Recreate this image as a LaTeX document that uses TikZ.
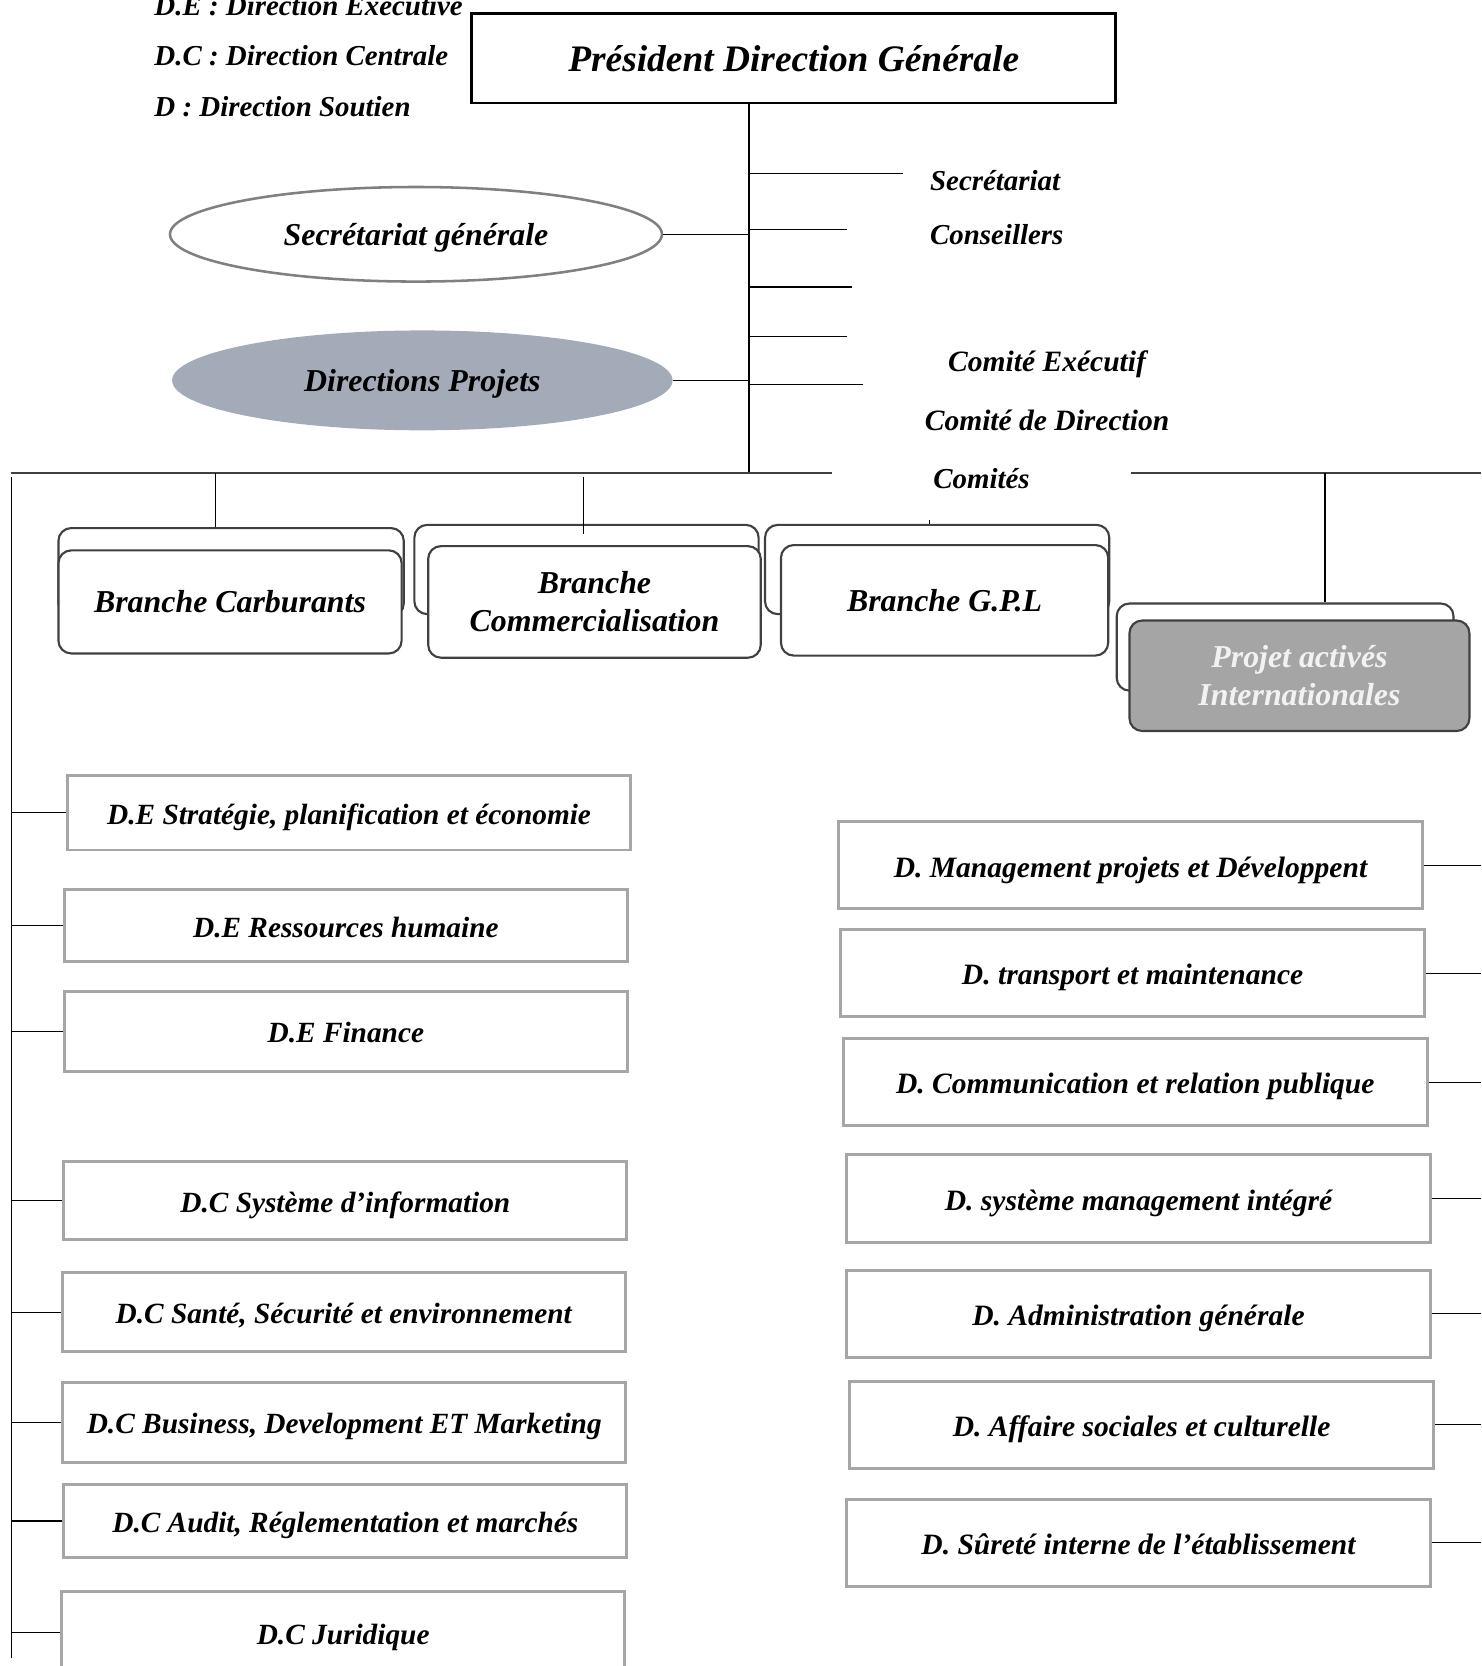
\documentclass[tikz,border=0pt]{standalone}
\usepackage{fontspec}
\setmainfont{Liberation Serif}
\usepackage{tikz}
\usetikzlibrary{shapes.geometric}
\definecolor{projgray}{RGB}{163,171,184}
\definecolor{intgray}{RGB}{165,165,165}
\definecolor{boxgray}{RGB}{166,166,166}
\definecolor{linegray}{RGB}{64,64,64}

\begin{document}
\begin{tikzpicture}[x=0.5pt,y=-0.5pt]
	\tikzstyle{txt}=[inner sep=0pt, font=\fontsize{13.6}{16}\selectfont\bfseries\itshape]
	\tikzstyle{pdg}=[rectangle, draw=black, line width=1.3pt, minimum width=303pt, minimum height=42pt, font=\fontsize{17.6}{20}\selectfont\bfseries\itshape]
	\tikzstyle{oval}=[ellipse, inner sep=0pt, text depth=0pt, font=\fontsize{15}{18}\selectfont\bfseries\itshape]
	\tikzstyle{branch}=[rectangle, rounded corners=6pt, draw=linegray, line width=1pt, fill=white, inner sep=0pt, align=center, font=\fontsize{15}{18}\selectfont\bfseries\itshape]
	\tikzstyle{dirl}=[rectangle, draw=boxgray, line width=1.4pt, fill=white, minimum width=265pt, inner sep=0pt, text height=1.1em, text depth=0pt, font=\fontsize{13.8}{16}\selectfont\bfseries\itshape]
	\tikzstyle{dirr}=[rectangle, draw=boxgray, line width=1.4pt, fill=white, minimum width=275pt, minimum height=41pt, inner sep=0pt, text height=1.1em, text depth=0pt, font=\fontsize{13.9}{16}\selectfont\bfseries\itshape]
	\tikzstyle{link}=[line width=0.6pt]

	\useasboundingbox (0,0) rectangle (1394,1568);

	\node [txt, anchor=west] (le1) at (145,5) {D.E : Direction Exécutive};
	\node [txt, anchor=west] (le2) at (145,52) {D.C : Direction Centrale};
	\node [txt, anchor=west] (le3) at (145,100) {D : Direction Soutien};

	\node [pdg] (pdg) at (747,55) {Président Direction Générale};

	\node [oval, draw=gray, line width=1.2pt, minimum width=231.5pt, minimum height=44.5pt] (sg) at (391.5,220.5) {Secrétariat générale};
	\node [oval, fill=projgray, minimum width=235.5pt, minimum height=47pt] (dp) at (397.5,358) {Directions Projets};

	\node [txt, anchor=west] (sec) at (875,170) {Secrétariat};
	\node [txt, anchor=west] (cons) at (875,221) {Conseillers};
	\node [txt, anchor=west, font=\fontsize{13.9}{16}\selectfont\bfseries\itshape] (cex) at (892,343) {Comité Exécutif};
	\node [txt, anchor=west, font=\fontsize{13.9}{16}\selectfont\bfseries\itshape] (cdir) at (870,396) {Comité de Direction};
	\node [txt, anchor=west] (com) at (878,450) {Comités};

	\coordinate (t0) at (705,97);
	\coordinate (t1) at (705,445);
	\coordinate (s1) at (850,163);
	\coordinate (s2) at (797,216);
	\coordinate (s3) at (802,270);
	\coordinate (s4) at (797,317);
	\coordinate (s5) at (812,362);
	\coordinate (hl) at (10,445);
	\coordinate (hm) at (783,445);
	\coordinate (hr) at (1064,445);
	\coordinate (he) at (1394,445);
	\coordinate (j1) at (203,445);
	\coordinate (j2) at (549,449);
	\coordinate (j3) at (875,489);
	\coordinate (j4) at (1247,445);
	\coordinate (v0) at (11,449);
	\coordinate (v1) at (11,1560);

	\node [branch, minimum width=162.5pt, minimum height=41.5pt] (bcb) at (217.5,538.5) {};
	\node [branch, minimum width=161.5pt, minimum height=48.5pt] (bc) at (216.5,566.5) {Branche Carburants};
	\node [branch, minimum width=162pt, minimum height=42pt] (bcob) at (552,536) {};
	\node [branch, minimum width=156.5pt, minimum height=52.5pt] (bco) at (559.5,566.5) {Branche\\Commercialisation};
	\node [branch, minimum width=162pt, minimum height=42pt] (gplb) at (882,536) {};
	\node [branch, minimum width=154pt, minimum height=52pt] (gpl) at (889,565) {Branche G.P.L};
	\node [branch, minimum width=158.5pt, minimum height=41pt] (paib) at (1209.5,609) {};
	\node [branch, fill=intgray, text=white!95!black, minimum width=160pt, minimum height=52pt] (pai) at (1223,636) {Projet activés\\Internationales};

	\node [dirl, minimum height=35pt] (l1) at (328.5,765) {D.E Stratégie, planification et économie};
	\node [dirl, minimum height=34pt] (l2) at (325.5,871) {D.E Ressources humaine};
	\node [dirl, minimum height=37.5pt] (l3) at (325.5,970.5) {D.E Finance};
	\node [dirl, minimum height=37pt] (l4) at (325,1130) {D.C Système d’information};
	\node [dirl, minimum height=37pt] (l5) at (323.5,1235) {D.C Santé, Sécurité et environnement};
	\node [dirl, minimum height=37.5pt] (l6) at (324,1338.5) {D.C Business, Development ET Marketing};
	\node [dirl, minimum height=34.5pt] (l7) at (325,1431.5) {D.C Audit, Réglementation et marchés};
	\node [dirl, minimum height=38.5pt] (l8) at (323,1536.5) {D.C Juridique};

	\node [dirr] (r1) at (1064,814.5) {D. Management projets et Développent};
	\node [dirr] (r2) at (1066,916) {D. transport et maintenance};
	\node [dirr] (r3) at (1068.5,1018.5) {D. Communication et relation publique};
	\node [dirr] (r4) at (1071.5,1128) {D. système management intégré};
	\node [dirr] (r5) at (1071.5,1236.5) {D. Administration générale};
	\node [dirr] (r6) at (1074.5,1341) {D. Affaire sociales et culturelle};
	\node [dirr] (r7) at (1071.5,1452) {D. Sûreté interne de l’établissement};

	\draw [link] (t0) -- (t1);
	\draw [link] (s1 -| t1) -- (s1);
	\draw [link] (s2 -| t1) -- (s2);
	\draw [link] (s3 -| t1) -- (s3);
	\draw [link] (s4 -| t1) -- (s4);
	\draw [link] (s5 -| t1) -- (s5);
	\draw [link] (sg.east) -- (sg.east -| t1);
	\draw [link] (dp.east) -- (dp.east -| t1);
	\draw [line width=0.9pt, draw=linegray] (hl) -- (hm);
	\draw [line width=0.9pt, draw=linegray] (hr) -- (he);
	\draw [link] (j1) -- (j1 |- bcb.north);
	\draw [link] (j2) -- ([yshift=-5]j2 |- bcob.north);
	\draw [link] (j3) -- (j3 |- gplb.north);
	\draw [link] (j4) -- (j4 |- paib.north);
	\draw [link] (v0) -- (v1);
	\foreach \n in {l1,l2,l3,l4,l5,l6,l7,l8}
		\draw [link] (v0 |- \n.west) -- (\n.west);
	\foreach \n in {r1,r2,r3,r4,r5,r6,r7}
		\draw [link] (\n.east) -- (\n.east -| he);
\end{tikzpicture}
\end{document}
